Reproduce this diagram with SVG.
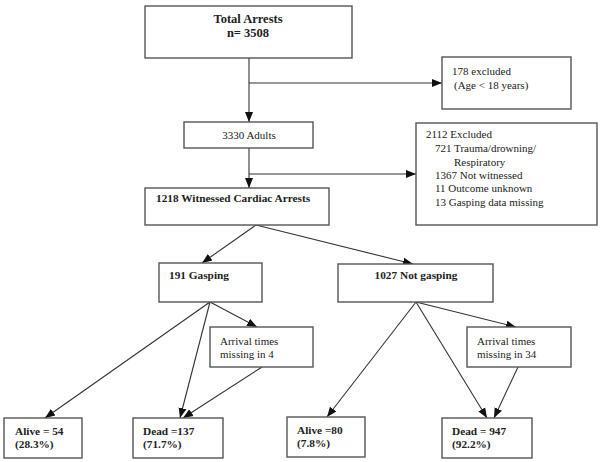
<svg xmlns="http://www.w3.org/2000/svg" width="602" height="462" viewBox="0 0 602 462">
<defs>
<marker id="ah" markerUnits="userSpaceOnUse" markerWidth="10" markerHeight="10" viewBox="0 0 10 10" refX="10" refY="5" orient="auto">
<path d="M0,1 L10,5 L0,9 Z" fill="#111"/>
</marker>
<style>
.box{fill:#fff;stroke:#555;stroke-width:1.4}
.ln{stroke:#333;stroke-width:1.1;fill:none}
.ar{stroke:#333;stroke-width:1.1;fill:none;marker-end:url(#ah)}
text{font-family:"Liberation Serif","Times New Roman",serif;font-size:11px;fill:#222}
.b{font-weight:bold;font-size:11.3px}
</style>
</defs>
<rect width="602" height="462" fill="#fff"/>
<g id="connectors">
<line class="ln" x1="249" y1="58" x2="249" y2="83"/>
<line class="ar" x1="249" y1="83" x2="249" y2="122"/>
<line class="ar" x1="249" y1="83" x2="442" y2="83"/>
<line class="ln" x1="249" y1="148" x2="249" y2="174"/>
<line class="ar" x1="249" y1="174" x2="249" y2="188"/>
<line class="ar" x1="249" y1="174" x2="416" y2="174"/>
<line class="ar" x1="256" y1="225" x2="202" y2="263"/>
<line class="ar" x1="256" y1="225" x2="413" y2="264"/>
<line class="ar" x1="210" y1="302" x2="257" y2="327"/>
<line class="ar" x1="210" y1="302" x2="45" y2="418"/>
<line class="ar" x1="210" y1="302" x2="180" y2="418"/>
<line class="ar" x1="262" y1="367" x2="183" y2="418"/>
<line class="ar" x1="416" y1="302" x2="516" y2="327"/>
<line class="ar" x1="416" y1="302" x2="327" y2="417"/>
<line class="ar" x1="416" y1="302" x2="487" y2="418"/>
<line class="ar" x1="518" y1="367" x2="494" y2="418"/>
</g>
<g id="total">
<rect class="box" x="145" y="6" width="207" height="52"/>
<text class="b" x="248" y="23" text-anchor="middle" style="font-size:12.5px">Total Arrests</text>
<text class="b" x="248" y="37" text-anchor="middle" style="font-size:12.5px">n= 3508</text>
</g>
<g id="excl178">
<rect class="box" x="442" y="57" width="129" height="52"/>
<text x="452" y="75">178 excluded</text>
<text x="454" y="89">(Age &lt; 18 years)</text>
</g>
<g id="adults">
<rect class="box" x="184" y="122" width="129" height="26"/>
<text x="249" y="139" text-anchor="middle">3330 Adults</text>
</g>
<g id="excl2112">
<rect class="box" x="416" y="123" width="181" height="102"/>
<text x="426" y="138">2112 Excluded</text>
<text x="435" y="152">721 Trauma/drowning/</text>
<text x="454" y="166">Respiratory</text>
<text x="435" y="179">1367 Not witnessed</text>
<text x="435" y="192">11 Outcome unknown</text>
<text x="435" y="206">13 Gasping data missing</text>
</g>
<g id="witnessed">
<rect class="box" x="145" y="188" width="184" height="37"/>
<text class="b" x="156" y="202">1218 Witnessed Cardiac Arrests</text>
</g>
<g id="gasping">
<rect class="box" x="159" y="263" width="103" height="39"/>
<text class="b" x="169" y="279">191 Gasping</text>
</g>
<g id="notgasping">
<rect class="box" x="338" y="264" width="155" height="38"/>
<text class="b" x="416" y="279" text-anchor="middle">1027 Not gasping</text>
</g>
<g id="arrival1">
<rect class="box" x="210" y="327" width="103" height="40"/>
<text x="220" y="345">Arrival times</text>
<text x="220" y="358">missing in 4</text>
</g>
<g id="arrival2">
<rect class="box" x="467" y="327" width="104" height="40"/>
<text x="477" y="345">Arrival times</text>
<text x="477" y="358">missing in 34</text>
</g>
<g id="alive54">
<rect class="box" x="4" y="418" width="78" height="40"/>
<text class="b" x="15" y="435">Alive = 54</text>
<text class="b" x="15" y="448">(28.3%)</text>
</g>
<g id="dead137">
<rect class="box" x="133" y="418" width="90" height="40"/>
<text class="b" x="143" y="435">Dead =137</text>
<text class="b" x="143" y="448">(71.7%)</text>
</g>
<g id="alive80">
<rect class="box" x="287" y="417" width="78" height="40"/>
<text class="b" x="297" y="434">Alive =80</text>
<text class="b" x="297" y="447">(7.8%)</text>
</g>
<g id="dead947">
<rect class="box" x="442" y="418" width="90" height="40"/>
<text class="b" x="452" y="435">Dead = 947</text>
<text class="b" x="452" y="448">(92.2%)</text>
</g>
</svg>
